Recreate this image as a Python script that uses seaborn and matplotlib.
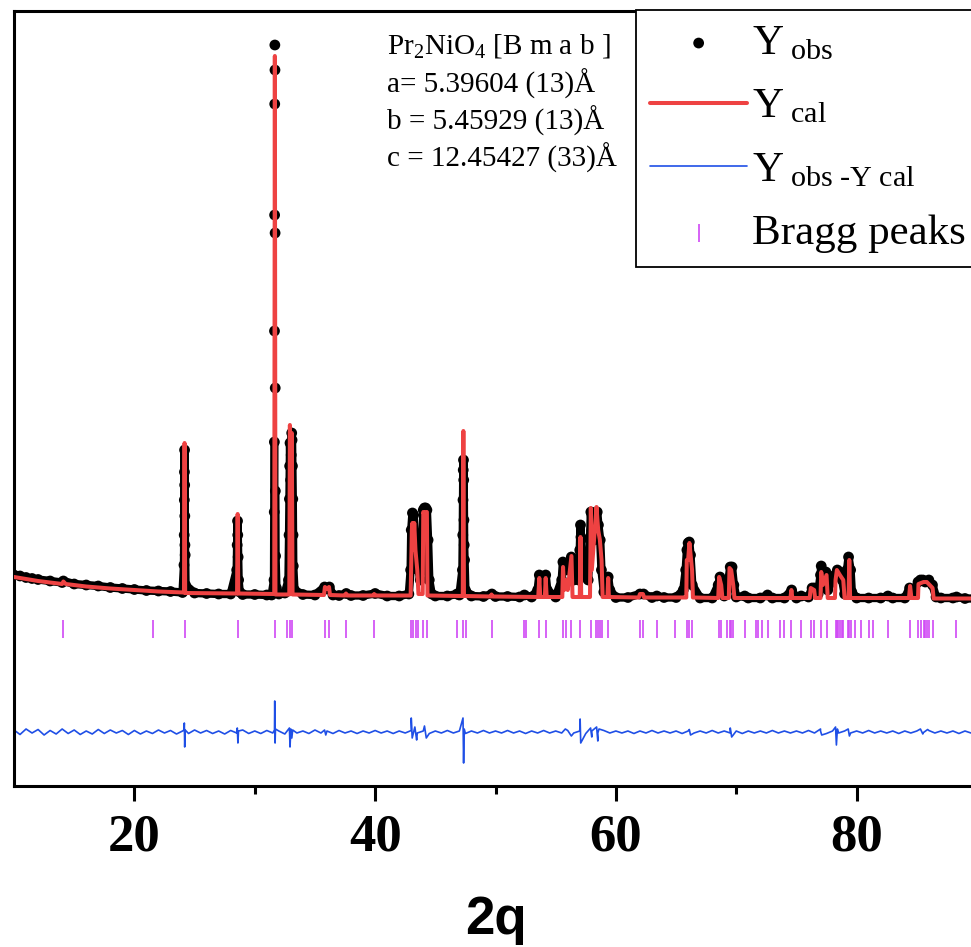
import numpy as np
import pandas as pd
import matplotlib
matplotlib.use("Agg")
import matplotlib.pyplot as plt
import seaborn as sns

obs_tth = [10.0, 10.5, 11.0, 11.5, 12.0, 13.0, 14.0, 14.1, 15.0, 16.0, 17.0, 18.0, 19.0, 20.0,
           21.0, 22.0, 23.0, 24.0,
           24.12, 24.14, 24.15, 24.16, 24.17, 24.18, 24.19, 24.2, 24.22, 24.25,
           25.0, 26.0, 27.0, 28.0, 28.5, 28.54, 28.57, 28.59, 28.62, 28.66, 28.75,
           29.0, 30.0, 31.0, 31.4,
           31.6, 31.62, 31.63, 31.64, 31.65, 31.66, 31.67, 31.68, 31.69, 31.7, 31.71, 31.73, 31.8,
           32.0, 32.5, 32.8, 32.85, 32.88, 32.9, 32.93, 32.98, 33.03, 33.07, 33.1, 33.13, 33.16,
           33.18, 33.2, 33.3,
           34.0, 35.0, 35.8, 36.0, 36.2, 36.5, 37.0, 37.6, 38.0, 39.0, 40.0, 41.0, 42.0, 42.8,
           42.95, 43.0, 43.1, 43.2, 43.3, 43.4, 43.5, 43.6, 43.75, 43.9, 44.0, 44.1, 44.2, 44.3,
           44.4, 44.5, 44.7,
           45.0, 46.0, 46.8, 47.0,
           47.25, 47.28, 47.3, 47.32, 47.34, 47.36, 47.38, 47.4, 47.43, 47.5,
           48.0, 49.0, 49.7, 50.0, 51.0, 52.0, 52.4, 53.0,
           53.5, 53.64, 53.8, 54.17, 54.3, 55.0, 55.5, 55.6, 55.8, 56.0, 56.3, 56.5,
           56.9, 57.0, 57.06, 57.1, 57.2, 57.7, 57.85, 57.92, 58.0, 58.2, 58.35, 58.45, 58.55,
           58.7, 58.8, 59.0, 59.25, 59.36, 59.5,
           60.0, 61.0, 62.0, 62.3, 63.0, 63.4, 64.0, 65.0, 65.6,
           65.8, 65.9, 66.0, 66.1, 66.2, 66.35,
           67.0, 68.0, 68.5, 68.65, 68.8, 69.0, 69.35, 69.5, 69.65, 69.8, 70.0,
           70.7, 71.0, 72.0, 72.6, 73.0, 74.0, 74.6, 75.0, 75.4, 76.0, 76.3, 76.5, 76.8,
           77.0, 77.06, 77.2, 77.45, 77.6, 78.2, 78.4, 78.6, 78.8, 79.0, 79.2, 79.33, 79.5, 79.6,
           80.0, 81.0, 82.0, 82.6, 83.0, 84.0, 84.4, 84.7, 85.1, 85.3, 85.5, 85.7, 86.0, 86.3,
           86.6, 87.0, 88.0, 88.3, 89.0, 90.0]
obs_int = [250, 240, 225, 215, 205, 190, 175, 190, 160, 150, 140, 125, 115, 105,
           95, 90, 85, 75,
           350, 650, 1000, 1280, 1500, 1150, 840, 550, 450, 150,
           70, 65, 60, 60, 300, 550, 790, 650, 430, 200, 80,
           55, 55, 50, 50,
           200, 880, 1580, 2690, 3850, 4960, 5550, 5300, 3670, 2120, 1090, 440, 120,
           60, 70, 200, 650, 1010, 1340, 1570, 1200, 1450, 1670, 1600, 1340, 1010,
           650, 340, 100,
           55, 50, 130, 110, 130, 50, 45, 65, 45, 45, 65, 40, 40, 60,
           300, 700, 870, 850, 650, 550, 450, 300, 200, 400, 900, 920, 920, 900,
           600, 200, 60,
           40, 40, 60, 50,
           300, 650, 1000, 1300, 1400, 1200, 800, 550, 400, 100,
           40, 35, 60, 35, 35, 30, 50, 30,
           100, 250, 100, 250, 100, 30, 200, 380, 350, 300, 430, 200,
           200, 500, 750, 630, 300, 200, 600, 880, 700, 600, 880, 880, 750,
           600, 300, 80, 100, 230, 100,
           25, 25, 60, 60, 25, 40, 25, 25, 100,
           300, 500, 570, 580, 450, 150,
           20, 20, 150, 230, 150, 40, 200, 330, 330, 150, 30,
           40, 20, 20, 50, 20, 20, 100, 20, 40, 30, 120, 120, 60,
           250, 340, 250, 280, 100, 250, 300, 280, 200, 60, 300, 430, 300, 80,
           20, 20, 20, 40, 20, 20, 120, 80, 180, 200, 200, 180, 200, 150,
           30, 20, 20, 30, 15, 15]

# calculated profile
cal_tth = [10.0, 12.0, 14.0, 14.1, 14.3, 16.0, 18.0, 20.0, 22.0, 24.0,
           24.12, 24.17, 24.22, 28.53, 28.58, 28.63, 31.62, 31.67, 31.72,
           32.87, 32.92, 32.98, 33.03, 33.08, 33.14, 35.75, 35.83, 36.0, 36.17, 36.25,
           37.5, 37.58, 37.66, 39.85, 39.92, 40.0, 42.95, 43.05, 43.1, 43.17, 43.25, 43.35,
           43.5, 43.6, 43.95, 44.0, 44.1, 44.2, 44.3, 44.35, 47.28, 47.33, 47.38,
           49.6, 49.67, 49.75, 53.55, 53.64, 53.72, 54.1, 54.17, 54.25,
           55.55, 55.61, 55.7, 55.86, 56.0, 56.31, 56.4, 57.0, 57.06, 57.12,
           57.85, 57.92, 58.0, 58.39, 58.53, 58.67, 58.81, 58.9, 59.3, 59.36, 59.42,
           61.9, 62.0, 62.25, 62.35, 65.85, 65.89, 66.0, 66.11, 66.33, 66.4,
           68.5, 68.58, 68.75, 68.85, 69.38, 69.44, 69.58, 69.75, 69.85,
           74.5, 74.58, 74.66, 76.1, 76.19, 76.47, 76.55, 77.0, 77.06, 77.2, 77.5, 77.6,
           78.2, 78.25, 78.36, 78.61, 78.89, 79.0, 79.33, 79.39, 79.46,
           84.35, 84.44, 84.55, 85.1, 85.14, 85.56, 85.83, 86.31, 86.4, 90.0]
cal_int = [230, 190, 160, 185, 160, 135, 115, 100, 85, 75,
           75, 1570, 70, 65, 860, 65, 60, 5440, 55,
           55, 1750, 300, 400, 1670, 55, 50, 130, 110, 130, 50,
           45, 65, 45, 45, 60, 45, 45, 700, 770, 500, 770, 500,
           300, 60, 60, 880, 850, 880, 880, 45, 40, 1690, 40,
           35, 55, 35, 30, 220, 30, 30, 220, 30,
           30, 330, 100, 200, 100, 440, 30, 30, 630, 30,
           30, 920, 300, 930, 700, 600, 400, 30, 30, 220, 30,
           25, 60, 60, 25, 25, 400, 400, 570, 300, 25,
           20, 230, 150, 20, 20, 320, 300, 150, 20,
           20, 100, 20, 20, 120, 100, 20, 20, 280, 150, 250, 20,
           20, 200, 300, 250, 200, 20, 20, 400, 20,
           20, 140, 20, 20, 160, 180, 180, 120, 15, 15]

# difference curve: noise on a 0.5 deg grid plus the spikes at the peaks
diff_grid = [20, -25, 30, -10, 25, -30, 15, -20, 30, -15, 20, -25, 10, -20, 25, -15, 20, -10, 15, -25,
             15, -20, 10, -15, 20, -10, 15, -20, 10, -15, 20, -10, 15, -15, 10, -20, 15, -10, 20, -15,
             10, -15, 15, -10, 10, -20, 15, -10, 10, -15, 20, -10, 10, -15, 15, -10, 10, -15, 10, -10,
             15, -10, 10, -15, 10, -10, 15, -10, 10, -15, 10, -10, 15, -10, 10, -15, 10, -10, 15, -10,
             10, -10, 15, -10, 10, -15, 10, -10, 15, -10, 10, -10, 15, -10, 10, -15, 10, -10, 15, -10,
             10, -10, 10, -15, 10, -10, 15, -10, 10, -10, 10, -15, 10, -10, 10, -10, 15, -10, 10, -10,
             10, -15, 10, -10, 10, -10, 15, -10, 10, -10, 10, -10, 15, -10, 10, -15, 10, -10, 10, -10,
             10, -10, 15, -10, 10, -10, 10, -15, 10, -10, 10, -10, 15, -10, 10, -10, 10, -15, 10, -10,
             5]
spike_tth = [24.12, 24.15, 24.18, 24.22, 28.55, 28.6, 28.65, 31.64, 31.66, 31.69, 31.72,
             32.88, 32.93, 33.0, 33.08, 33.15, 35.8, 35.9, 43.0, 43.08, 43.3, 43.45, 44.1, 44.25,
             47.3, 47.35, 47.4, 55.8, 56.3, 57.03, 57.08, 57.9, 58.0, 58.4, 58.5, 58.6,
             66.1, 66.2, 69.5, 69.62, 77.0, 77.1, 78.25, 78.32, 78.4, 79.3, 79.4,
             85.3, 85.5, 85.9]
spike_val = [20, 90, -150, 20, 40, -110, 10, 20, 310, -110, 30,
             40, -150, 30, -60, 20, 20, -30, 140, -60, 50, -80, 60, -60,
             140, -310, 30, 30, -40, 130, -110, 40, -50, 50, -90, 30,
             25, -30, 40, -50, 30, -30, 50, -130, 30, 30, -40,
             30, -20, 25]
diff_offset = -1320

bragg_tth = [14.08, 21.58, 24.17, 28.58, 31.67, 32.67, 32.92, 33.08, 35.83, 36.17, 37.58,
             39.92, 43.0, 43.17, 43.42, 43.58, 44.0, 44.33, 46.83, 47.33, 47.58, 49.67,
             52.36, 52.5, 53.64, 54.17, 55.61, 55.86, 56.31, 57.06, 57.92, 58.39, 58.53,
             58.67, 58.81, 59.36, 61.97, 62.25, 63.44, 64.92, 65.89, 66.11, 66.33, 68.58,
             68.75, 69.25, 69.44, 69.58, 69.75, 70.69, 71.61, 71.78, 72.17, 72.64, 73.67,
             73.97, 74.58, 75.42, 76.19, 76.47, 77.06, 77.5, 78.25, 78.36, 78.47, 78.61,
             78.75, 78.89, 79.25, 79.39, 79.53, 79.86, 80.36, 81.03, 81.39, 82.58, 84.44,
             85.14, 85.33, 85.56, 85.69, 85.83, 86.0, 86.31, 88.28]
bragg_level = -285

cell_text = ["a= 5.39604 (13)Å", "b = 5.45929 (13)Å", "c = 12.45427 (33)Å"]

obs_df = pd.DataFrame({"tth": obs_tth, "I": obs_int})
# the dense scan merges into a band; on the tall main peak the points stand apart
obs_df["band"] = obs_df["I"].where(obs_df["I"] < 2000)
cal_df = pd.DataFrame({"tth": cal_tth, "I": cal_int})
diff_df = pd.DataFrame({"tth": list(np.arange(10.0, 90.01, 0.5)) + spike_tth,
                        "d": diff_grid + spike_val}).sort_values("tth")
diff_df["I"] = diff_df["d"] + diff_offset
bragg_df = pd.DataFrame({"tth": bragg_tth, "I": [bragg_level] * len(bragg_tth)})

sns.set_theme(style="ticks")
plt.rcParams["font.family"] = ["Liberation Serif", "DejaVu Sans"]
plt.rcParams["mathtext.fontset"] = "custom"
plt.rcParams["mathtext.rm"] = "Liberation Serif"
plt.rcParams["mathtext.it"] = "Liberation Serif:italic"
plt.rcParams["mathtext.bf"] = "Liberation Serif:bold"
for key in ["text.color", "axes.labelcolor", "xtick.color", "ytick.color", "axes.edgecolor"]:
    plt.rcParams[key] = "black"

fig = plt.figure(figsize=(9.71, 9.47), dpi=100)
ax = fig.add_axes([14 / 971, 1 - 786 / 947, 963 / 971, 775 / 947])

red = "#ee4242"
blue = "#1f4fe6"
violet = "#d048f5"

# observed: thick band plus dots
ax.plot(obs_df["tth"], obs_df["band"], color="black", lw=6, solid_capstyle="round")
sns.scatterplot(data=obs_df, x="tth", y="I", color="black", s=60, edgecolor="none",
                ax=ax, label="Y$_{\\rm\\ obs}$", zorder=3)
sns.lineplot(data=cal_df, x="tth", y="I", estimator=None, sort=False, color=red,
             lw=2.9, ax=ax, label="Y$_{\\rm\\ cal}$", zorder=4)
sns.lineplot(data=diff_df, x="tth", y="I", estimator=None, sort=False, color=blue,
             lw=1.2, ax=ax, label="Y$_{\\rm\\ obs\\ \\text{-Y}\\ cal}$")
sns.scatterplot(data=bragg_df, x="tth", y="I", marker="|", s=150, linewidth=1.2,
                color=violet, ax=ax, label="Bragg peaks")

ax.set_xlim(10, 90)
ax.set_ylim(-1860, 5890)
ax.set_yticks([])
ax.set_xticks([20, 40, 60, 80])
ax.set_xticks([30, 50, 70], minor=True)
ax.tick_params(axis="x", which="major", direction="out", length=11, width=2.2,
               labelsize=38, pad=9, colors="black")
ax.tick_params(axis="x", which="minor", direction="out", length=6, width=2.2, colors="black")
for lab in ax.get_xticklabels():
    lab.set_fontweight("bold")
for side in ["left", "bottom", "top", "right"]:
    ax.spines[side].set_linewidth(2.2)
    ax.spines[side].set_color("black")

ax.set_xlabel("2q", fontsize=38, fontweight="bold", family=["Liberation Sans"], labelpad=24,
              color="black")
ax.set_ylabel("")

# cell parameters
fig.text(387 / 971, 1 - 53 / 947, "Pr$_2$NiO$_4$ [B m a b ]", fontsize=21, va="baseline")
for k, line in enumerate(cell_text):
    fig.text(387 / 971, 1 - (93 + 37 * k) / 947, line, fontsize=21, va="baseline")

leg = ax.legend(loc="upper left", bbox_to_anchor=(636 / 971, 1 - 10 / 947),
                bbox_transform=fig.transFigure, borderaxespad=0, fontsize=31,
                frameon=True, fancybox=False, framealpha=1, edgecolor="black",
                handlelength=2.25, handletextpad=0.12, labelspacing=0.56, borderpad=0.33)
leg.get_frame().set_linewidth(1.3)
for t in leg.get_texts():
    t.set_color("black")

fig.savefig("out.png", dpi=100)
